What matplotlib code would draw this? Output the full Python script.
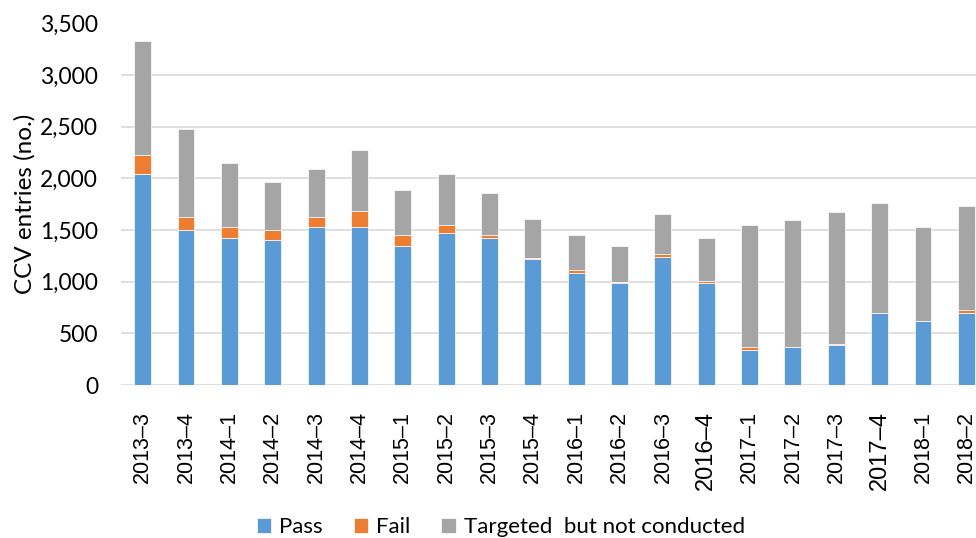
import numpy as np
import matplotlib
matplotlib.use("Agg")
import matplotlib.pyplot as plt

# データ
quarters = ["2013–3", "2013–4", "2014–1", "2014–2", "2014–3", "2014–4",
            "2015–1", "2015–2", "2015–3", "2015–4", "2016–1", "2016–2",
            "2016–3", "2016–4", "2017–1", "2017–2", "2017–3", "2017–4",
            "2018–1", "2018–2"]
pass_n = [2043, 1502, 1425, 1400, 1528, 1528, 1345, 1473, 1422, 1219,
          1087, 988, 1242, 988, 341, 367, 389, 698, 621, 701]
fail_n = [180, 126, 103, 99, 100, 154, 106, 78, 29, 12,
          29, 5, 25, 19, 26, 5, 8, 0, 0, 26]
not_done = [1107, 852, 618, 467, 466, 592, 437, 492, 412, 374,
            332, 352, 387, 415, 1184, 1230, 1282, 1062, 904, 1004]

c_pass = "#5B9BD5"
c_fail = "#ED7D31"
c_tgt = "#A5A5A5"

fig = plt.figure(figsize=(9.76, 5.38), dpi=100)
# 右端は元画像と同じく切れている
ax = fig.add_axes([121 / 976, 153 / 538, 867 / 976, 361.5 / 538])

x = np.arange(len(quarters))
p = np.array(pass_n)
f = np.array(fail_n)
t = np.array(not_done)
w = 0.39
ax.bar(x, p, w, color=c_pass, edgecolor="white", linewidth=0.5, label="Pass", zorder=3)
ax.bar(x, f, w, bottom=p, color=c_fail, edgecolor="white", linewidth=0.5, label="Fail", zorder=3)
ax.bar(x, t, w, bottom=p + f, color=c_tgt, edgecolor="white", linewidth=0.5,
       label="Targeted  but not conducted", zorder=3)

ax.set_xlim(-0.5, len(quarters) - 0.5)
ax.set_ylim(0, 3500)
ax.set_yticks(np.arange(0, 3501, 500))
ax.set_yticklabels([f"{v:,}" for v in range(0, 3501, 500)],
                   fontfamily="Lato", fontsize=16.5)
ax.yaxis.grid(True, color="#D9D9D9", linewidth=1.2, zorder=0)
ax.set_axisbelow(True)
for s in ax.spines.values():
    s.set_visible(False)
ax.tick_params(axis="y", length=0, pad=16.5)
ax.tick_params(axis="x", length=0, pad=18.5)

ax.set_xticks(x)
ax.set_xticklabels(quarters, rotation=90, fontfamily="Liberation Sans", fontsize=15.5)
for lab in ax.get_xticklabels():
    if lab.get_text() in ("2016–4", "2017–4"):
        lab.set_fontsize(17)

ax.set_ylabel("CCV entries (no.)", fontfamily="Lato", fontsize=17.5, labelpad=3.5)

fig.legend(loc="center", bbox_to_anchor=(0.513, 0.02), ncol=3, frameon=False,
           prop={"family": "Lato", "size": 16},
           handlelength=0.65, handleheight=0.65, handletextpad=0.35,
           columnspacing=1.4)

fig.savefig("out.png", dpi=100)
